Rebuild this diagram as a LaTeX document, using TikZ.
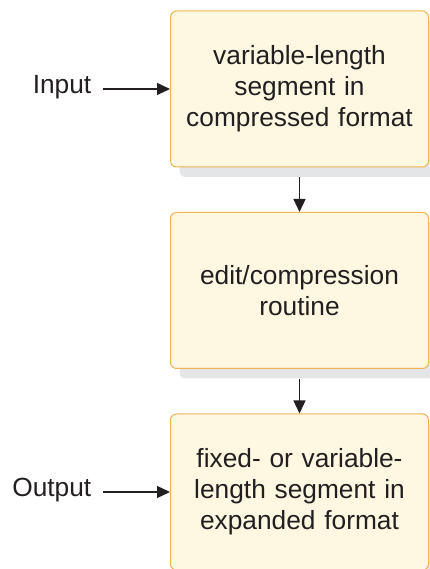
\documentclass[tikz,border=0pt]{standalone}
\usepackage{fontspec}
\setmainfont{Liberation Sans}
\usetikzlibrary{positioning,shadows,arrows.meta}
\definecolor{boxfill}{HTML}{FEF7E2}
\definecolor{boxline}{HTML}{F0B450}
\definecolor{boxshadow}{HTML}{E4E5E7}
\definecolor{inktext}{HTML}{231F20}
\tikzset{
	segment flow/.style={
		x=1pt,y=1pt,
		node distance=44.5pt,
		font=\fontsize{26.3}{31}\selectfont,
		text=inktext,
		flow arrow/.style={
			draw=inktext,
			line width=1.3pt,
			-{Triangle[length=13pt,width=12pt]}
		}
	},
	stage/.style={
		rectangle,
		rounded corners=6pt,
		draw=boxline,
		line width=1pt,
		fill=boxfill,
		minimum width=258pt,
		minimum height=156pt,
		text width=240pt,
		align=center,
		drop shadow={shadow xshift=9pt,shadow yshift=-10pt,fill=boxshadow,opacity=1}
	},
	side label/.style={
		inner sep=0pt,
		text height=10pt,text depth=0pt % arrow sits 5pt above the baseline
	}
}

\begin{document}
\begin{tikzpicture}[segment flow]
	\useasboundingbox (0,0) rectangle (429,569);
	% the three stages
	\node[stage] (compressed) at (299.5,480) {variable-length\\segment in\\compressed format};
	\node[stage,below=of compressed] (routine) {edit/compression\\routine};
	\node[stage,below=of routine] (expanded) {fixed- or variable-\\length segment in\\expanded format};
	% labels on the left
	\node[side label,left=78.5pt of compressed] (input) {Input};
	\node[side label,left=78.5pt of expanded] (output) {Output};
	% connectors
	\draw[flow arrow,shorten <=11pt] (input.east) -- (compressed.west);
	\draw[flow arrow,shorten <=11pt] (output.east) -- (expanded.west);
	\draw[flow arrow,shorten <=10pt] (compressed.south) -- (routine.north);
	\draw[flow arrow,shorten <=10pt] (routine.south) -- (expanded.north);
\end{tikzpicture}
\end{document}
